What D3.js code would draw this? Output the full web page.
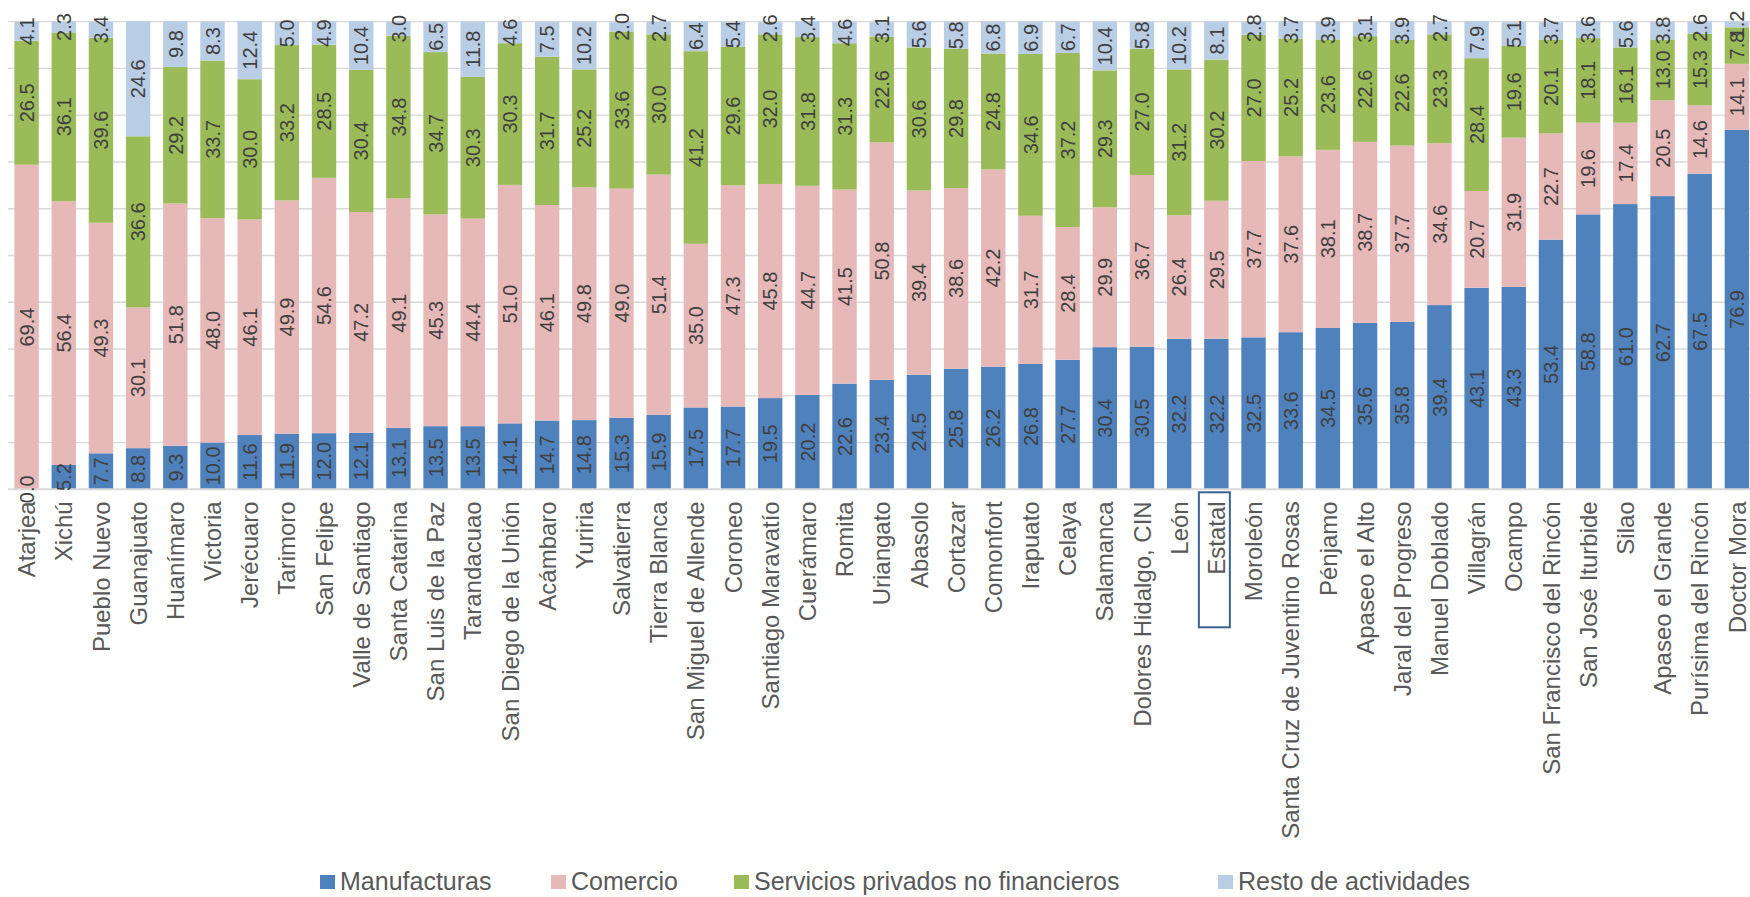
<!DOCTYPE html>
<html>
<head>
<meta charset="utf-8">
<script src="https://cdn.jsdelivr.net/npm/d3@7"></script>
<style>
  html, body { margin: 0; padding: 0; background: #ffffff; }
  svg { display: block; }
  text { font-family: "Liberation Sans", Arial, Helvetica, sans-serif; }
</style>
</head>
<body>
<svg id="chart" width="1750" height="897"></svg>
<script>
// ---------------- DATA ----------------
const categories = [
  "Atarjea", "Xichú", "Pueblo Nuevo", "Guanajuato", "Huanímaro", "Victoria", "Jerécuaro",
  "Tarimoro", "San Felipe", "Valle de Santiago", "Santa Catarina", "San Luis de la Paz",
  "Tarandacuao", "San Diego de la Unión", "Acámbaro", "Yuriria", "Salvatierra", "Tierra Blanca",
  "San Miguel de Allende", "Coroneo", "Santiago Maravatío", "Cuerámaro", "Romita", "Uriangato",
  "Abasolo", "Cortazar", "Comonfort", "Irapuato", "Celaya", "Salamanca", "Dolores Hidalgo, CIN",
  "León", "Estatal", "Moroleón", "Santa Cruz de Juventino Rosas", "Pénjamo", "Apaseo el Alto",
  "Jaral del Progreso", "Manuel Doblado", "Villagrán", "Ocampo", "San Francisco del Rincón",
  "San José Iturbide", "Silao", "Apaseo el Grande", "Purísima del Rincón", "Doctor Mora"
];

const manufacturas = [
  0.0, 5.2, 7.7, 8.8, 9.3, 10.0, 11.6, 11.9, 12.0, 12.1, 13.1, 13.5, 13.5, 14.1, 14.7, 14.8,
  15.3, 15.9, 17.5, 17.7, 19.5, 20.2, 22.6, 23.4, 24.5, 25.8, 26.2, 26.8, 27.7, 30.4, 30.5,
  32.2, 32.2, 32.5, 33.6, 34.5, 35.6, 35.8, 39.4, 43.1, 43.3, 53.4, 58.8, 61.0, 62.7, 67.5, 76.9
];

const comercio = [
  69.4, 56.4, 49.3, 30.1, 51.8, 48.0, 46.1, 49.9, 54.6, 47.2, 49.1, 45.3, 44.4, 51.0, 46.1, 49.8,
  49.0, 51.4, 35.0, 47.3, 45.8, 44.7, 41.5, 50.8, 39.4, 38.6, 42.2, 31.7, 28.4, 29.9, 36.7,
  26.4, 29.5, 37.7, 37.6, 38.1, 38.7, 37.7, 34.6, 20.7, 31.9, 22.7, 19.6, 17.4, 20.5, 14.6, 14.1
];

const servicios = [
  26.5, 36.1, 39.6, 36.6, 29.2, 33.7, 30.0, 33.2, 28.5, 30.4, 34.8, 34.7, 30.3, 30.3, 31.7, 25.2,
  33.6, 30.0, 41.2, 29.6, 32.0, 31.8, 31.3, 22.6, 30.6, 29.8, 24.8, 34.6, 37.2, 29.3, 27.0,
  31.2, 30.2, 27.0, 25.2, 23.6, 22.6, 22.6, 23.3, 28.4, 19.6, 20.1, 18.1, 16.1, 13.0, 15.3, 7.8
];

const resto = [
  4.1, 2.3, 3.4, 24.6, 9.8, 8.3, 12.4, 5.0, 4.9, 10.4, 3.0, 6.5, 11.8, 4.6, 7.5, 10.2,
  2.0, 2.7, 6.4, 5.4, 2.6, 3.4, 4.6, 3.1, 5.6, 5.8, 6.8, 6.9, 6.7, 10.4, 5.8,
  10.2, 8.1, 2.8, 3.7, 3.9, 3.1, 3.9, 2.7, 7.9, 5.1, 3.7, 3.6, 5.6, 3.8, 2.6, 1.2
];

const seriesNames = ["Manufacturas", "Comercio", "Servicios privados no financieros", "Resto de actividades"];
const gridTicks = [0, 10, 20, 30, 40, 50, 60, 70, 80, 90, 100];
const highlightedCategory = "Estatal";

// ---------------- STYLE / LAYOUT ----------------
const seriesColors = ["#4F81BD", "#E6B9B8", "#9BBB59", "#B9CDE5"];
const W = 1750, H = 897;
const plotLeft = 8, plotTop = 21.7, plotBottom = 489.3;
const step = 37.18;
const legendX = [320, 551, 734, 1218];

const seriesValues = [manufacturas, comercio, servicios, resto];
const table = categories.map((c, i) => {
  const row = { cat: c };
  seriesNames.forEach((s, k) => { row[s] = seriesValues[k][i]; });
  return row;
});

const svg = d3.select("#chart");

const x = d3.scaleBand()
  .domain(categories)
  .range([plotLeft, plotLeft + step * categories.length])
  .paddingInner(0.344)
  .paddingOuter(0.172);

const y = d3.scaleLinear().domain([0, 100]).range([plotBottom, plotTop]);

// gridlines
svg.append("g").selectAll("line")
  .data(gridTicks.filter(t => t !== 0))
  .join("line")
  .attr("x1", plotLeft).attr("x2", W)
  .attr("y1", d => y(d)).attr("y2", d => y(d))
  .attr("stroke", "#D9D9D9").attr("stroke-width", 1.3);

// stacked bars
const stacked = d3.stack().keys(seriesNames)(table);

const layers = svg.append("g").selectAll("g")
  .data(stacked)
  .join("g")
  .attr("fill", (d, i) => seriesColors[i]);

layers.selectAll("rect")
  .data(d => d)
  .join("rect")
  .attr("x", d => x(d.data.cat))
  .attr("width", x.bandwidth())
  .attr("y", d => y(d[1]))
  .attr("height", d => Math.max(0, y(d[0]) - y(d[1])));

// baseline
svg.append("line")
  .attr("x1", plotLeft).attr("x2", W)
  .attr("y1", y(0)).attr("y2", y(0))
  .attr("stroke", "#D9D9D9").attr("stroke-width", 2);

// data labels
const labelG = svg.append("g");
stacked.forEach((layer, k) => {
  labelG.append("g").selectAll("text")
    .data(layer)
    .join("text")
    .attr("transform", d => {
      const cx = x(d.data.cat) + x.bandwidth() / 2;
      const cy = y((d[0] + d[1]) / 2);
      return `translate(${cx},${cy}) rotate(-90)`;
    })
    .attr("text-anchor", "middle")
    .attr("dy", "0.36em")
    .attr("font-size", 20)
    .attr("fill", "#404040")
    .text(d => (d[1] - d[0]).toFixed(1));
});

// x axis labels
const xAxis = d3.axisBottom(x).tickSize(0).tickPadding(0);
const axG = svg.append("g").attr("transform", `translate(0,${y(0)})`).call(xAxis);
axG.select(".domain").remove();
axG.selectAll("text")
  .attr("transform", "translate(0,12) rotate(-90)")
  .attr("x", 0).attr("y", 0)
  .attr("dy", "0.36em")
  .attr("text-anchor", "end")
  .attr("font-size", 24)
  .attr("font-family", "'Liberation Sans', Arial, sans-serif")
  .attr("fill", "#595959");

// highlight box around "Estatal"
const hx = x(highlightedCategory) + x.bandwidth() / 2;
svg.append("rect")
  .attr("x", hx - 17.5)
  .attr("y", y(0) + 3)
  .attr("width", 31)
  .attr("height", 135)
  .attr("fill", "none")
  .attr("stroke", "#3B6190")
  .attr("stroke-width", 2);

// legend
const leg = svg.append("g");
seriesNames.forEach((s, i) => {
  const g = leg.append("g").attr("transform", `translate(${legendX[i]},0)`);
  g.append("rect").attr("x", 0).attr("y", 875).attr("width", 15).attr("height", 14)
    .attr("fill", seriesColors[i]);
  g.append("text").attr("x", 20).attr("y", 890)
    .attr("font-size", 25).attr("fill", "#595959").text(s);
});
</script>
</body>
</html>
